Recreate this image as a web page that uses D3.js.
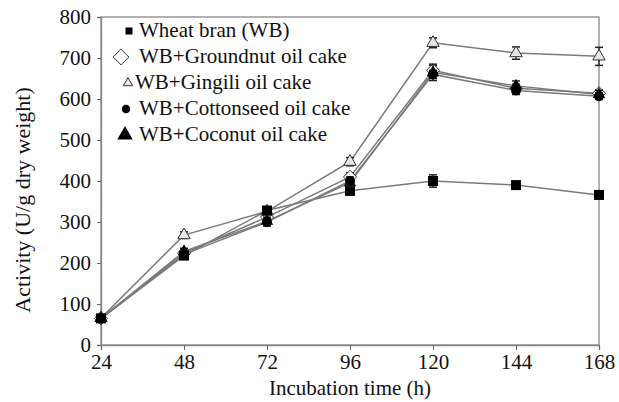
<!DOCTYPE html>
<html><head><meta charset="utf-8">
<script src="https://cdn.jsdelivr.net/npm/d3@7"></script>
</head><body style="margin:0;background:#fff;font-family:'Liberation Serif'"><svg id="c" width="619" height="402" font-family="Liberation Serif" style="display:block;font-family:'Liberation Serif'"></svg>
<script>
const times = [24, 48, 72, 96, 120, 144, 168];
const xTicks = [24, 48, 72, 96, 120, 144, 168];
const yTicks = [0, 100, 200, 300, 400, 500, 600, 700, 800];
const seriesNames = ["Wheat bran (WB)", "WB+Groundnut oil cake", "WB+Gingili oil cake", "WB+Cottonseed oil cake", "WB+Coconut oil cake"];
const wheatBran   = [65, 218, 328, 376, 400, 390, 366];
const groundnut   = [65, 224, 312, 410, 670, 626, 614];
const gingili     = [66, 268, 326, 447, 737, 712, 704];
const cottonseed  = [64, 221, 300, 400, 660, 621, 607];
const coconut     = [65, 228, 302, 396, 665, 632, 611];
const errWheat    = [4, 8, 8, 10, 15, 8, 6];
const errGround   = [4, 8, 8, 10, 12, 10, 8];
const errGingili  = [4, 8, 8, 10, 12, 15, 22];
const errCotton   = [4, 8, 10, 10, 10, 10, 8];
const errCoconut  = [4, 8, 10, 10, 20, 12, 10];
const symbols = ["square", "diamond", "triangleOpen", "circle", "triangle"];

const FONT = "'Liberation Serif'";

const series = [
  {name: seriesNames[0], v: wheatBran, e: errWheat, sym: symbols[0]},
  {name: seriesNames[1], v: groundnut, e: errGround, sym: symbols[1]},
  {name: seriesNames[2], v: gingili, e: errGingili, sym: symbols[2]},
  {name: seriesNames[3], v: cottonseed, e: errCotton, sym: symbols[3]},
  {name: seriesNames[4], v: coconut, e: errCoconut, sym: symbols[4]}
];

const svg = d3.select("#c");
const L = 101, R = 599, T = 17, B = 345;
const x = d3.scaleLinear().domain([24, 168]).range([L, R]);
const y = d3.scaleLinear().domain([0, 800]).range([B, T]);

function txt(sel, size) {
  const s = size || 21;
  return sel.attr("font-family", "Liberation Serif").style("font-family", FONT)
    .style("font-size", s + "px").attr("font-size", s).attr("fill", "#111");
}

svg.append("rect").attr("x", L).attr("y", T).attr("width", R - L).attr("height", B - T)
  .attr("fill", "none").attr("stroke", "#888").attr("stroke-width", 1.3);

const xAx = svg.append("g").attr("transform", `translate(0,${B})`)
  .call(d3.axisBottom(x).tickValues(xTicks).tickSize(5).tickPadding(4));
const yAx = svg.append("g").attr("transform", `translate(${L},0)`)
  .call(d3.axisLeft(y).tickValues(yTicks).tickSize(4).tickPadding(6));
[xAx, yAx].forEach(g => {
  g.attr("font-family", "Liberation Serif").attr("font-size", 21);
  g.select(".domain").attr("stroke", "#888").attr("stroke-width", 1.3);
  g.selectAll(".tick line").attr("stroke", "#666");
  txt(g.selectAll("text"));
});

txt(svg.append("text").attr("x", (L + R) / 2).attr("y", 395).attr("text-anchor", "middle"))
  .text("Incubation time (h)");
txt(svg.append("text").attr("transform", `translate(30,200) rotate(-90)`)
  .attr("text-anchor", "middle"), 22)
  .text("Activity (U/g dry weight)");

const line = d3.line().x((d, i) => x(times[i])).y(d => y(d));

function drawSym(g, sym, cx, cy, scale) {
  const s = scale || 1;
  if (sym === "square") {
    g.append("rect").attr("x", cx - 5 * s).attr("y", cy - 5 * s).attr("width", 10 * s).attr("height", 10 * s).attr("fill", "#000");
  } else if (sym === "diamond") {
    g.append("path").attr("d", d3.symbol(d3.symbolDiamond2, 110 * s * s)()).attr("transform", `translate(${cx},${cy})`)
      .attr("fill", "#fff").attr("stroke", "#333").attr("stroke-width", 1);
  } else if (sym === "triangleOpen") {
    g.append("path").attr("d", d3.symbol(d3.symbolTriangle2, 110 * s * s)()).attr("transform", `translate(${cx},${cy})`)
      .attr("fill", "#e6e6e6").attr("stroke", "#333").attr("stroke-width", 1);
  } else if (sym === "circle") {
    g.append("circle").attr("cx", cx).attr("cy", cy).attr("r", 5 * s).attr("fill", "#000");
  } else {
    g.append("path").attr("d", d3.symbol(d3.symbolTriangle2, 110 * s * s)()).attr("transform", `translate(${cx},${cy})`)
      .attr("fill", "#000");
  }
}

const order = [1, 2, 0, 4, 3];
order.forEach(k => {
  const s = series[k];
  svg.append("path").datum(s.v).attr("d", line).attr("fill", "none")
    .attr("stroke", "#7a7a7a").attr("stroke-width", 1.5);
});
order.forEach(k => {
  const s = series[k];
  const g = svg.append("g");
  s.v.forEach((v, i) => {
    const cx = x(times[i]);
    const y1 = y(v + s.e[i]), y2 = y(v - s.e[i]);
    g.append("line").attr("x1", cx).attr("x2", cx).attr("y1", y1).attr("y2", y2).attr("stroke", "#222").attr("stroke-width", 1.3);
    g.append("line").attr("x1", cx - 4).attr("x2", cx + 4).attr("y1", y1).attr("y2", y1).attr("stroke", "#222").attr("stroke-width", 1.5);
    g.append("line").attr("x1", cx - 4).attr("x2", cx + 4).attr("y1", y2).attr("y2", y2).attr("stroke", "#222").attr("stroke-width", 1.5);
    drawSym(g, s.sym, cx, y(v));
  });
});

// legend
const legBase = [37, 63, 89, 115, 141];
const legSym = [[129, 0.7], [121, 1.2], [128, 0.75], [126, 0.85], [125, 1.25]];
const legX = [139, 139, 135, 139, 139];
series.forEach((s, i) => {
  drawSym(svg, s.sym, legSym[i][0], legBase[i] - 6, legSym[i][1]);
  txt(svg.append("text").attr("x", legX[i]).attr("y", legBase[i])).text(s.name);
});
</script></body></html>
